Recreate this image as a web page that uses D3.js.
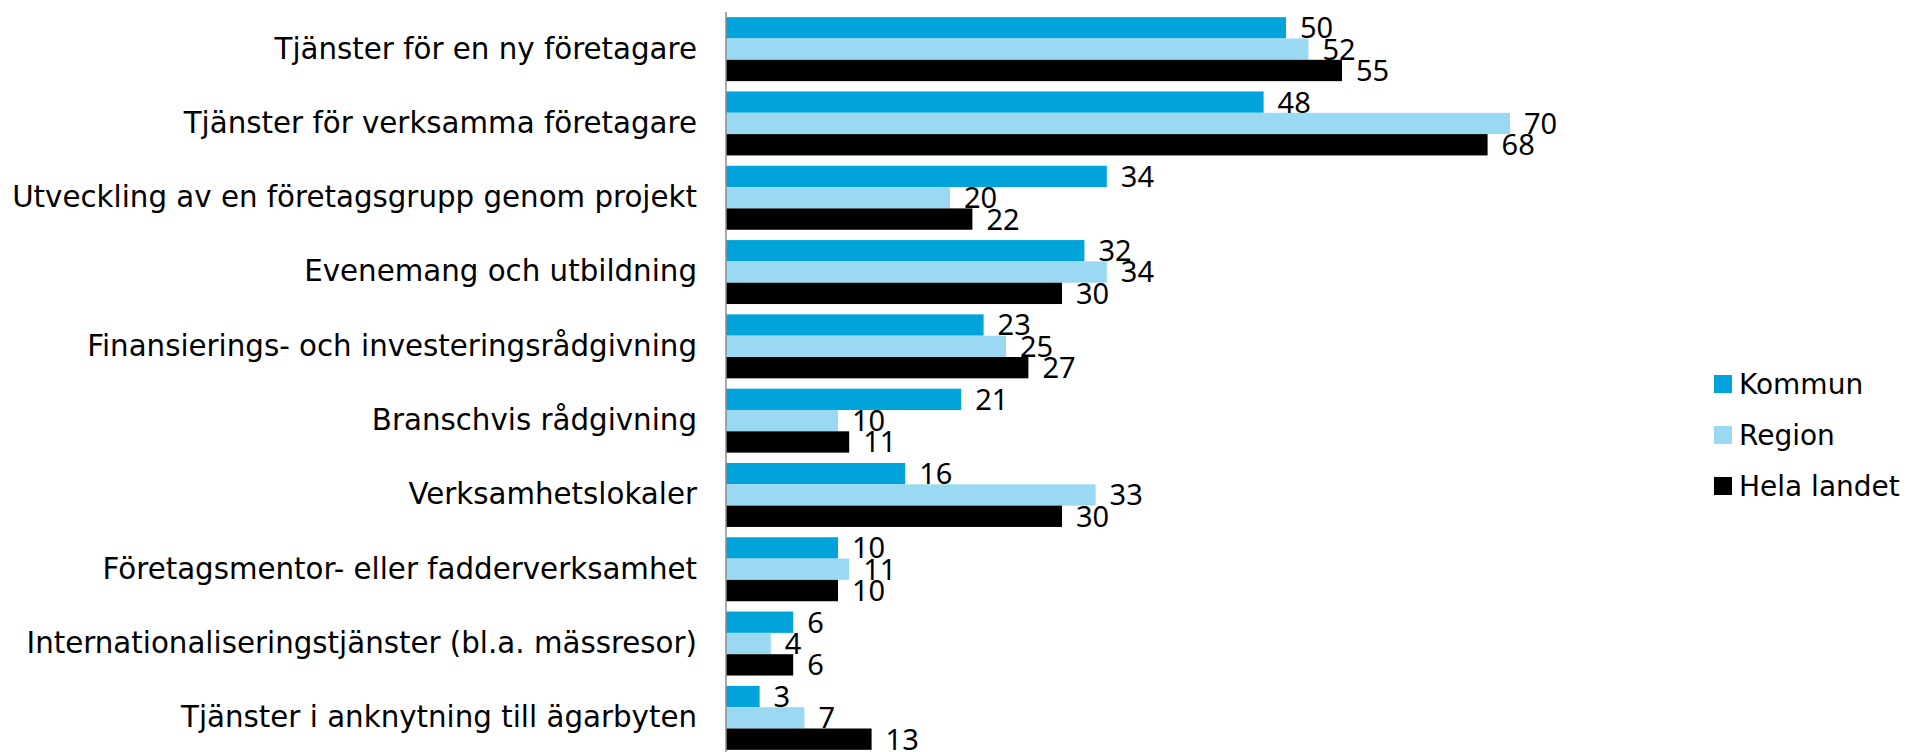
<!DOCTYPE html>
<html>
<head>
<meta charset="utf-8">
<script src="https://cdn.jsdelivr.net/npm/d3@7"></script>
<style>
  html, body { margin: 0; padding: 0; background: #fff; }
  svg { display: block; }
</style>
</head>
<body>
<svg id="chart" width="1910" height="752"></svg>
<script>
// Service categories (top to bottom)
const categories = [
  "Tjänster för en ny företagare",
  "Tjänster för verksamma företagare",
  "Utveckling av en företagsgrupp genom projekt",
  "Evenemang och utbildning",
  "Finansierings- och investeringsrådgivning",
  "Branschvis rådgivning",
  "Verksamhetslokaler",
  "Företagsmentor- eller fadderverksamhet",
  "Internationaliseringstjänster (bl.a. mässresor)",
  "Tjänster i anknytning till ägarbyten"
];

// Series names and values
const seriesNames = ["Kommun", "Region", "Hela landet"];
const kommun     = [50, 48, 34, 32, 23, 21, 16, 10, 6, 3];
const region     = [52, 70, 20, 34, 25, 10, 33, 11, 4, 7];
const helaLandet = [55, 68, 22, 30, 27, 11, 30, 10, 6, 13];

const seriesColors = ["#00a4da", "#9ad9f1", "#000000"];

const seriesValues = [kommun, region, helaLandet];
const rows = categories.map((c, i) => ({
  category: c,
  values: seriesNames.map((s, k) => ({ series: s, value: seriesValues[k][i] }))
}));

const svg = d3.select("#chart");

const axisX = 726;
const x = d3.scaleLinear().domain([0, 80]).range([axisX, axisX + 896]);
const y = d3.scaleBand().domain(categories).range([12, 755])
  .paddingInner(0.139).paddingOuter(0.0695);
const ySub = d3.scaleBand().domain(seriesNames).range([0, y.bandwidth()]);
const color = d3.scaleOrdinal().domain(seriesNames).range(seriesColors);

// Bars
const groups = svg.append("g").selectAll("g")
  .data(rows).join("g")
  .attr("transform", d => `translate(0,${y(d.category)})`);

groups.selectAll("rect")
  .data(d => d.values).join("rect")
  .attr("x", x(0))
  .attr("y", d => ySub(d.series))
  .attr("width", d => x(d.value) - x(0))
  .attr("height", ySub.bandwidth())
  .attr("fill", d => color(d.series));

// Value labels
groups.selectAll("text.val")
  .data(d => d.values).join("text")
  .attr("class", "val")
  .attr("x", d => x(d.value) + 14)
  .attr("y", d => ySub(d.series) + ySub.bandwidth() / 2)
  .attr("dy", "0.36em")
  .attr("font-family", "'Noto Sans', 'Liberation Sans', sans-serif")
  .attr("font-size", 29)
  .attr("fill", "#000")
  .text(d => d.value);

// Category axis
const yAxis = d3.axisLeft(y).tickSize(0).tickPadding(29);
const yAxisG = svg.append("g")
  .attr("transform", `translate(${axisX},0)`)
  .call(yAxis);
yAxisG.select(".domain").remove();
yAxisG.selectAll("text")
  .attr("font-family", "'DejaVu Sans', sans-serif")
  .attr("font-size", 29.3)
  .attr("fill", "#000")
  .attr("dy", "0.32em");

svg.append("line")
  .attr("x1", axisX).attr("x2", axisX)
  .attr("y1", 12).attr("y2", 752)
  .attr("stroke", "#8c8c8c")
  .attr("stroke-width", 1.5);

// Legend
const legend = svg.append("g").attr("transform", "translate(1714,384)");
const li = legend.selectAll("g").data(seriesNames).join("g")
  .attr("transform", (d, i) => `translate(0,${i * 51})`);
li.append("rect")
  .attr("x", 0).attr("y", -9)
  .attr("width", 18).attr("height", 18)
  .attr("fill", d => color(d));
li.append("text")
  .attr("x", 25).attr("y", 0).attr("dy", "0.36em")
  .attr("font-family", "'DejaVu Sans', sans-serif")
  .attr("font-size", 28)
  .attr("fill", "#000")
  .text(d => d);
</script>
</body>
</html>
